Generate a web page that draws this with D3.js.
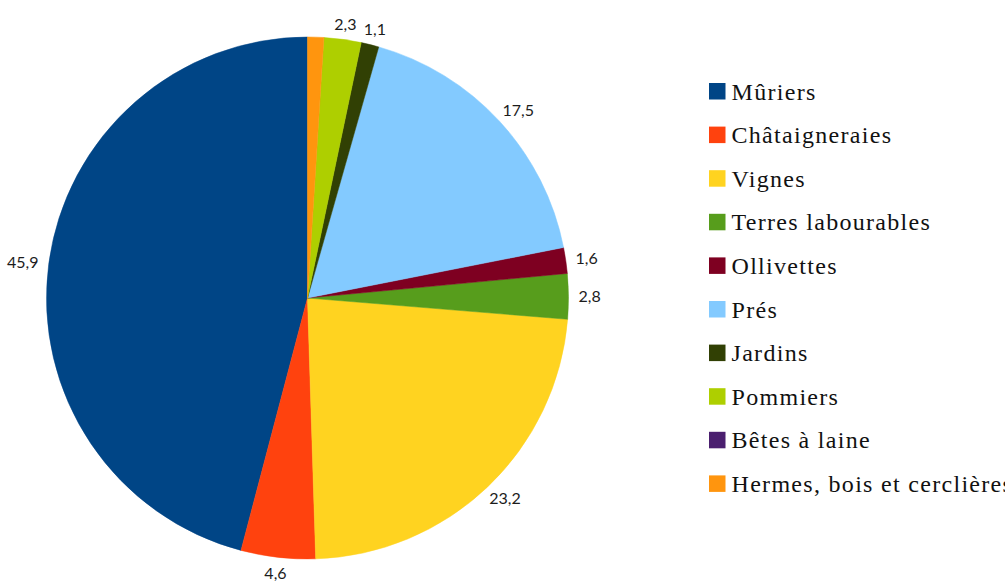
<!DOCTYPE html>
<html>
<head>
<meta charset="utf-8">
<script src="https://cdn.jsdelivr.net/npm/d3@7"></script>
</head>
<body style="margin:0">
<svg id="chart" width="1005" height="583"></svg>
<script>
// Land use shares (%), in legend order
const categories = [
  "Mûriers",
  "Châtaigneraies",
  "Vignes",
  "Terres labourables",
  "Ollivettes",
  "Prés",
  "Jardins",
  "Pommiers",
  "Bêtes à laine",
  "Hermes, bois et cerclières"
];
const values = [45.9, 4.6, 23.2, 2.8, 1.6, 17.5, 1.1, 2.3, 0, 1.0];
const showLabel = [true, true, true, true, true, true, true, true, false, false];
const colors = [
  "#004586", "#ff420e", "#ffd320", "#579d1c", "#7e0021",
  "#83caff", "#314004", "#aecf00", "#4b1f6f", "#ff950e"
];

const svg = d3.select("#chart");
const cx = 307.5, cy = 298, radius = 261;
const labelRadius = radius + 10;

const data = categories.map((name, i) => ({ name, value: values[i], color: colors[i], labelled: showLabel[i] }));

// Slices run counter-clockwise from twelve o'clock
const pie = d3.pie()
  .sort(null)
  .value(d => d.value)
  .startAngle(0)
  .endAngle(-2 * Math.PI);

const arc = d3.arc().innerRadius(0).outerRadius(radius);
const arcs = pie(data);

const g = svg.append("g").attr("transform", `translate(${cx},${cy})`);

g.selectAll("path.slice")
  .data(arcs.filter(a => a.data.value > 0))
  .join("path")
  .attr("class", "slice")
  .attr("d", arc)
  .attr("fill", d => d.data.color)
  .attr("stroke", d => d.data.color)
  .attr("stroke-width", 0.5);

// Legend: swatches and names
const legendX = 709, legendY = 83, rowStep = 43.6, box = 16.5;

data.forEach((d, i) => {
  const top = legendY + i * rowStep;
  svg.append("rect")
    .attr("x", legendX)
    .attr("y", top)
    .attr("width", box)
    .attr("height", box)
    .attr("fill", d.color);
  svg.append("text")
    .attr("x", legendX + 22.5)
    .attr("y", top + box)
    .style("font-family", '"Liberation Serif"')
    .style("font-size", "24px")
    .style("letter-spacing", "1.3px")
    .style("fill", "#111111")
    .text(d.name);
});

// Value labels just outside the rim, anchored by the side they sit on.
// Width is estimated from glyph advances (digits ~0.58em, comma ~0.25em).
const fmt = v => d3.format(".1f")(v).replace(".", ",");
const labelSize = 16;
const capH = labelSize * 0.72;
const textWidth = s => Array.from(s).reduce((acc, ch) => acc + (ch === "," ? 0.25 : 0.58), 0) * labelSize;

arcs.filter(a => a.data.value > 0 && a.data.labelled).forEach(a => {
  const theta = (a.startAngle + a.endAngle) / 2;
  const s = Math.sin(theta), c = Math.cos(theta);
  const px = cx + labelRadius * s, py = cy - labelRadius * c;
  const label = fmt(a.data.value);
  const w = textWidth(label);
  const xLeft = px + (s - 1) / 2 * w;
  const yTop = py - (c + 1) / 2 * capH;
  svg.append("text")
    .attr("x", xLeft)
    .attr("y", yTop + capH)
    .style("font-family", '"Lato"')
    .style("font-size", labelSize + "px")
    .style("fill", "#1c1c1c")
    .text(label);
});
</script>
</body>
</html>
